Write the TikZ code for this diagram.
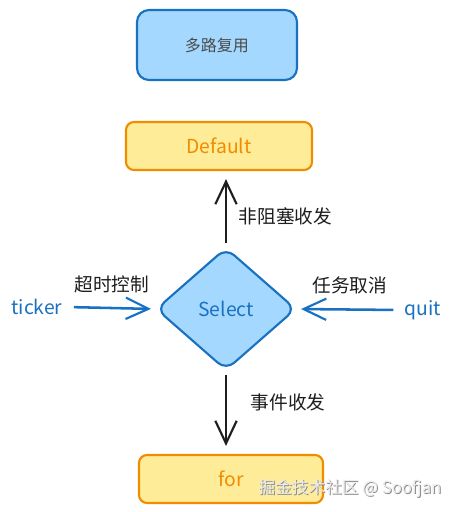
\documentclass[tikz,border=0pt]{standalone}
\usepackage{fontspec}
\setmainfont{Noto Sans CJK SC}
\usetikzlibrary{shapes.geometric,arrows.meta}
\definecolor{bfill}{HTML}{A5D8FF}
\definecolor{bline}{HTML}{1971C2}
\definecolor{yfill}{HTML}{FFEC99}
\definecolor{yline}{HTML}{F08C00}
\definecolor{ink}{HTML}{1E1E1E}
\tikzset{
  bluebox/.style={draw=bline,fill=bfill,line width=1.6pt,rounded corners=9pt,text=ink!80},
  yelbox/.style={draw=yline,fill=yfill,line width=1.6pt,rounded corners=6pt,text=yline},
  arr/.style={line width=1.9pt,-{Straight Barb[length=17pt,width=16pt,line width=1.6pt]}},
  lbl/.style={text=ink,font=\fontsize{14}{16}\selectfont},
  latin/.style={font=\fontsize{14.5}{16}\selectfont},
}
\begin{document}
\begin{tikzpicture}[x=0.75pt,y=-0.75pt]
\useasboundingbox (0,0) rectangle (452,512);
\fill[white] (0,0) rectangle (452,512);
\node[bluebox,minimum width=120pt,minimum height=52.5pt,font=\fontsize{12}{14}\selectfont] (mux) at (217,45) {多路复用};
\node[yelbox,minimum width=139.5pt,minimum height=36pt,latin] (def) at (219,146) {Default};
\node[diamond,draw=bline,fill=bfill,line width=1.6pt,rounded corners=8pt,inner sep=0pt,
      minimum width=105pt,minimum height=92pt,text=bline,latin] (sel) at (226,309) {Select};
\node[yelbox,minimum width=138pt,minimum height=36pt,latin] (for) at (231,479) {for};
\node[text=bline,latin,anchor=center] (ticker) at (37,307) {ticker};
\node[text=bline,latin,anchor=center] (quit) at (423,310) {quit};
\draw[arr,draw=ink,shorten >=6pt,shorten <=3pt] (sel.north) -- (sel.north |- def.south);
\draw[arr,draw=bline,shorten <=5pt,shorten >=3pt] (ticker.east) -- (sel.west);
\draw[arr,draw=bline,shorten <=5pt,shorten >=3pt] (quit.west) -- (sel.east);
\draw[arr,draw=ink,shorten <=3pt,shorten >=6pt] (sel.south) -- (sel.south |- for.north);
\node[lbl,anchor=west] (l1) at (234,216) {非阻塞收发};
\node[lbl,anchor=center] (l2) at (112,284) {超时控制};
\node[lbl,anchor=center] (l3) at (350,285) {任务取消};
\node[lbl,anchor=west] (l4) at (246,402) {事件收发};
\node[text=black!45,font=\fontsize{12.5}{14}\selectfont] (wm0) at (351,489) {掘金技术社区 @ Soofjan};
\node[text=white!92!black,font=\fontsize{12.5}{14}\selectfont] (wm) at (350,488) {掘金技术社区 @ Soofjan};
\end{tikzpicture}
\end{document}
